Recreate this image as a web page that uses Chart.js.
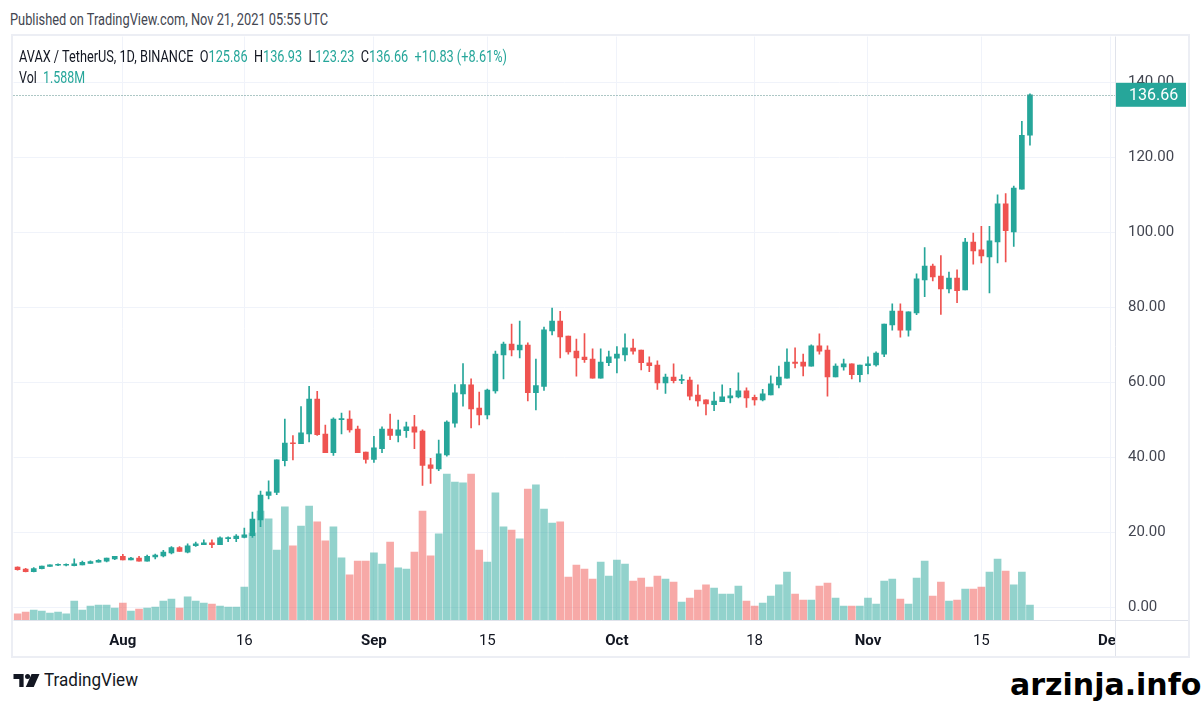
<!DOCTYPE html>
<html>
<head>
<meta charset="utf-8">
<script src="https://cdn.jsdelivr.net/npm/chart.js@4.4.0/dist/chart.umd.min.js"></script>
<style>
html, body { margin: 0; padding: 0; background: #fff; }
body { width: 1203px; height: 704px; position: relative; overflow: hidden; font-family: Roboto, "Noto Sans", sans-serif; }
#wrap { position: absolute; left: 11px; top: 34px; width: 1181px; height: 625px; }
.txt { position: absolute; white-space: nowrap; transform-origin: 0 50%; line-height: 1; }
#header { left: 10px; top: 12px; font-size: 16px; color: #434651; }
#legend { left: 19px; top: 49px; font-size: 16px; color: #131722; }
#vol { left: 19px; top: 70px; font-size: 16px; color: #131722; }
.up { color: #26a69a; }
#tvtext { left: 44px; top: 671px; font-size: 18px; color: #131722; }
#logo { position: absolute; left: 13px; top: 674px; }
#mark { position: absolute; left: 1010px; top: 670px; font-family: "DejaVu Sans", sans-serif; font-weight: bold; font-size: 30px; color: #000; white-space: nowrap; line-height: 1; }
</style>
</head>
<body>
<div id="header" class="txt" data-w="318">Published on TradingView.com, Nov 21, 2021 05:55 UTC</div>
<div id="wrap"><canvas id="chart"></canvas></div>
<div id="legend" class="txt" data-w="488"></div>
<div id="vol" class="txt" data-w="66"></div>
<svg id="logo" width="27" height="13" viewBox="0 0 36 18">
  <path d="M0 0H14V18H8V7H0Z" fill="#131722"/>
  <circle cx="19.5" cy="3.5" r="3.5" fill="#131722"/>
  <path d="M25 0H36L28 18H17Z" fill="#131722"/>
</svg>
<div id="tvtext" class="txt" data-w="94">TradingView</div>
<div id="mark">arzinja.info</div>
<script>
// daily candles AVAX/USDT, Jul 19 .. Nov 21 2021
const opens = [10.7, 10.2, 9.5, 10.3, 10.9, 11.2, 11.2, 11.1, 11.3, 11.7,
  12.0, 12.3, 12.9, 13.6, 12.6, 13.1, 12.3, 13.4, 13.7, 14.5,
  15.9, 14.7, 16.4, 16.7, 17.2, 16.7, 18.3, 18.3, 18.6, 19.1,
  23.3, 29.8, 30.6, 39.1, 43.8, 43.6, 46.2, 55.5, 46.2, 41.2,
  50.0, 50.2, 47.5, 41.4, 39.4, 42.3, 47.5, 45.8, 47.1, 48.1,
  47.0, 38.0, 36.9, 40.6, 49.1, 56.9, 59.3, 53.1, 51.3, 57.7,
  67.3, 70.2, 68.6, 69.9, 57.2, 58.9, 73.7, 76.3, 72.3, 68.3,
  66.7, 66.2, 61.1, 65.2, 66.4, 67.3, 69.1, 68.6, 65.2, 64.6,
  59.8, 61.4, 60.5, 60.6, 56.6, 55.3, 54.0, 54.8, 55.8, 56.1,
  57.7, 56.0, 55.3, 56.6, 59.3, 61.1, 65.4, 65.4, 64.3, 69.7,
  68.6, 61.4, 64.1, 64.9, 62.0, 64.4, 64.6, 67.5, 75.3, 79.0,
  73.9, 78.5, 87.3, 91.0, 88.3, 84.9, 87.8, 84.6, 97.4, 95.3,
  93.4, 97.4, 107.6, 100.1, 111.5, 125.86];
const highs = [10.8, 10.4, 10.6, 11.0, 11.3, 11.6, 11.6, 12.9, 12.3, 12.4,
  12.7, 13.1, 13.6, 14.1, 13.3, 13.6, 13.9, 14.2, 15.2, 16.2,
  16.2, 16.9, 17.4, 18.0, 18.0, 18.8, 18.8, 19.4, 21.1, 25.4,
  31.0, 33.7, 39.3, 50.2, 45.8, 53.5, 58.9, 57.6, 48.6, 50.5,
  51.8, 52.4, 48.3, 41.4, 45.6, 48.1, 51.5, 49.9, 49.4, 51.2,
  47.3, 39.7, 44.6, 49.7, 59.4, 65.0, 60.9, 57.4, 58.2, 68.3,
  70.7, 75.5, 76.3, 70.5, 66.2, 74.7, 79.8, 78.9, 72.3, 71.5,
  73.0, 68.9, 68.9, 68.3, 69.5, 72.9, 71.5, 68.6, 66.8, 65.7,
  62.2, 64.9, 62.0, 61.4, 59.3, 55.3, 57.4, 59.3, 58.4, 62.5,
  58.5, 56.6, 58.1, 61.7, 64.3, 68.9, 69.2, 67.5, 70.0, 72.9,
  69.7, 64.9, 66.2, 64.9, 64.6, 66.8, 68.1, 75.5, 80.9, 80.9,
  78.8, 88.9, 95.9, 91.5, 93.8, 89.4, 90.0, 98.4, 99.8, 101.6,
  101.6, 110.0, 110.3, 112.3, 129.6, 136.93];
const lows = [9.9, 9.4, 9.4, 10.2, 10.9, 11.1, 11.0, 11.0, 11.3, 11.7,
  12.0, 12.1, 12.7, 12.6, 12.6, 12.3, 12.3, 12.9, 13.4, 14.2,
  14.9, 14.5, 16.2, 16.7, 15.9, 16.7, 17.5, 17.5, 18.5, 18.6,
  21.5, 28.9, 30.0, 37.7, 39.3, 43.6, 44.1, 45.8, 41.2, 40.5,
  46.2, 46.7, 41.2, 38.4, 38.6, 41.2, 44.7, 44.1, 45.3, 42.3,
  32.5, 33.0, 36.4, 40.3, 48.0, 53.6, 47.8, 48.6, 50.2, 57.1,
  60.9, 67.0, 66.5, 55.0, 52.6, 57.8, 72.6, 66.5, 67.5, 61.6,
  65.3, 61.1, 61.1, 64.4, 62.5, 65.7, 67.5, 63.3, 62.8, 58.1,
  57.0, 59.8, 59.6, 55.3, 53.6, 51.3, 52.4, 54.8, 54.5, 55.8,
  53.3, 53.9, 55.0, 56.6, 58.5, 61.1, 63.8, 61.7, 64.3, 67.5,
  56.3, 61.4, 63.2, 60.9, 60.1, 62.2, 64.3, 66.8, 73.9, 72.0,
  72.3, 78.0, 82.8, 87.0, 78.1, 83.8, 81.2, 84.6, 91.5, 91.8,
  83.8, 91.8, 92.1, 96.2, 111.5, 123.23];
const closes = [10.0, 9.5, 10.3, 11.0, 11.3, 11.3, 11.3, 11.6, 12.0, 12.2,
  12.5, 13.1, 13.6, 12.6, 13.1, 12.3, 13.6, 13.9, 14.7, 15.9,
  14.9, 16.4, 16.9, 17.2, 16.7, 18.5, 18.6, 19.0, 19.3, 23.5,
  29.9, 30.8, 39.3, 43.8, 43.6, 46.5, 55.5, 46.0, 41.2, 50.2,
  50.3, 47.3, 41.2, 39.4, 42.5, 47.5, 45.8, 47.3, 48.1, 46.7,
  37.8, 37.0, 40.9, 49.4, 57.2, 59.4, 52.9, 51.3, 57.9, 67.5,
  70.2, 68.6, 69.9, 57.2, 59.1, 74.0, 76.3, 72.1, 68.1, 66.5,
  66.0, 61.1, 65.4, 66.8, 67.5, 69.2, 68.3, 65.2, 64.4, 59.8,
  61.4, 60.4, 60.7, 56.3, 55.0, 54.2, 55.0, 56.1, 56.4, 57.7,
  55.8, 55.3, 56.9, 59.6, 61.4, 65.4, 65.0, 64.3, 69.7, 68.3,
  61.4, 64.3, 64.9, 62.0, 64.6, 64.9, 67.8, 75.5, 79.0, 73.9,
  78.8, 87.6, 91.0, 88.1, 84.9, 87.8, 84.4, 97.4, 95.0, 93.7,
  97.7, 107.6, 100.4, 111.8, 125.83, 136.66];
// volume in millions AVAX
const volumes = [0.64, 0.85, 1.06, 0.95, 0.74, 0.85, 0.64, 2.01, 1.06, 1.48,
  1.59, 1.59, 1.27, 1.80, 0.95, 1.16, 1.27, 1.38, 2.01, 2.22,
  1.27, 2.44, 2.01, 1.80, 1.69, 1.48, 1.38, 1.38, 3.49, 9.21,
  11.54, 10.70, 7.41, 11.97, 7.84, 9.95, 12.07, 10.38, 8.37, 9.85,
  6.57, 4.77, 6.25, 6.25, 7.10, 5.93, 8.26, 5.51, 5.40, 7.20,
  11.54, 6.78, 9.11, 15.46, 14.61, 14.51, 15.46, 7.41, 6.14, 13.45,
  9.85, 9.53, 8.58, 13.87, 14.30, 11.75, 10.27, 10.38, 4.55, 5.82,
  5.40, 4.34, 6.14, 4.66, 6.35, 5.93, 4.13, 4.45, 3.49, 4.66,
  4.34, 4.02, 1.91, 2.33, 3.18, 3.71, 3.39, 2.75, 2.75, 3.60,
  2.01, 1.48, 1.80, 2.54, 3.71, 5.08, 2.75, 2.12, 2.12, 3.60,
  3.92, 2.33, 1.48, 1.48, 1.48, 2.33, 1.69, 4.13, 4.34, 2.22,
  1.69, 4.45, 6.25, 2.54, 4.02, 2.01, 2.12, 3.28, 3.28, 3.49,
  5.08, 6.46, 5.19, 3.71, 5.08, 1.588];

const startDate = '2021-07-19';
const dayCount = 136; // axis runs on to Dec 1
const tickDates = ['2021-08-01', '2021-08-16', '2021-09-01', '2021-09-15', '2021-10-01',
  '2021-10-18', '2021-11-01', '2021-11-15', '2021-12-01'];
const tickText = ['Aug', '16', 'Sep', '15', 'Oct', '18', 'Nov', '15', 'Dec'];
const priceTicks = [0, 20, 40, 60, 80, 100, 120, 140];

const UP = '#26a69a', DOWN = '#ef5350';
const UP_VOL = 'rgba(38,166,154,0.5)', DOWN_VOL = 'rgba(239,83,80,0.5)';

const labels = [];
const d0 = new Date(startDate + 'T00:00:00Z');
for (let i = 0; i < dayCount; i++) {
  labels.push(new Date(d0.getTime() + i * 86400000).toISOString().slice(0, 10));
}

const isUp = opens.map((o, i) => closes[i] >= o);
const candleColors = isUp.map(u => u ? UP : DOWN);
const volColors = isUp.map(u => u ? UP_VOL : DOWN_VOL);

// legend text from last candle
const n = closes.length - 1;
const chg = closes[n] - closes[n - 1];
const pct = chg / closes[n - 1] * 100;
document.getElementById('legend').innerHTML =
  'AVAX / TetherUS, 1D, BINANCE&nbsp;&nbsp;O<span class="up">' + opens[n].toFixed(2) +
  '</span>&nbsp;&nbsp;H<span class="up">' + highs[n].toFixed(2) +
  '</span>&nbsp;&nbsp;L<span class="up">' + lows[n].toFixed(2) +
  '</span>&nbsp;&nbsp;C<span class="up">' + closes[n].toFixed(2) +
  '</span>&nbsp;&nbsp;<span class="up">+' + chg.toFixed(2) + ' (+' + pct.toFixed(2) + '%)</span>';
document.getElementById('vol').innerHTML = 'Vol&nbsp;&nbsp;<span class="up">' + volumes[n].toFixed(3) + 'M</span>';

const paneDeco = {
  id: 'paneDeco',
  afterDatasetsDraw(chart) {
    const { ctx, chartArea: a } = chart;
    const y = chart.scales.y.getPixelForValue(closes[n]);
    ctx.save();
    ctx.strokeStyle = '#5b8f8a';
    ctx.lineWidth = 1;
    ctx.setLineDash([1, 2]);
    ctx.beginPath();
    ctx.moveTo(a.left, Math.round(y) + 0.5);
    ctx.lineTo(a.right, Math.round(y) + 0.5);
    ctx.stroke();
    ctx.restore();
  },
  afterDraw(chart) {
    const { ctx, chartArea: a, width, height } = chart;
    ctx.save();
    // clip the x labels that run into the price column
    ctx.fillStyle = '#fff';
    ctx.fillRect(a.right + 1, a.bottom + 1, width - a.right - 1, height - a.bottom - 1);
    ctx.strokeStyle = '#e0e3eb';
    ctx.lineWidth = 1;
    ctx.beginPath();
    ctx.moveTo(Math.round(a.right) + 0.5, a.top);
    ctx.lineTo(Math.round(a.right) + 0.5, height - 2);
    ctx.moveTo(a.left, Math.round(a.bottom) + 0.5);
    ctx.lineTo(width - 2, Math.round(a.bottom) + 0.5);
    ctx.stroke();
    // outer frame
    ctx.strokeStyle = '#eceef4';
    ctx.lineWidth = 2;
    ctx.strokeRect(1, 1, width - 4, height - 3);
    // last price tag
    const y = chart.scales.y.getPixelForValue(closes[n]);
    ctx.fillStyle = UP;
    ctx.fillRect(a.right + 1, y - 12, 70, 24);
    ctx.fillStyle = '#fff';
    ctx.font = '16px Roboto, "Noto Sans", sans-serif';
    ctx.textBaseline = 'middle';
    ctx.textAlign = 'left';
    ctx.fillText(closes[n].toFixed(2), a.right + 14, y + 1);
    ctx.restore();
  }
};

const canvas = document.getElementById('chart');
canvas.width = 1181;
canvas.height = 625;

new Chart(canvas, {
  type: 'bar',
  data: {
    labels: labels,
    datasets: [
      {
        label: 'Volume',
        data: volumes,
        yAxisID: 'vol',
        backgroundColor: volColors,
        barThickness: 7,
        grouped: false,
        order: 3
      },
      {
        label: 'Wick',
        data: lows.map((l, i) => [l, highs[i]]),
        backgroundColor: candleColors,
        barThickness: 1,
        grouped: false,
        order: 2
      },
      {
        label: 'Body',
        data: opens.map((o, i) => [o, closes[i]]),
        backgroundColor: candleColors,
        barThickness: 5,
        minBarLength: 1,
        grouped: false,
        order: 1
      }
    ]
  },
  options: {
    responsive: false,
    animation: false,
    layout: { padding: { left: 2.5, top: 2.5, right: 0, bottom: 0 } },
    plugins: { legend: { display: false }, tooltip: { enabled: false } },
    scales: {
      x: {
        type: 'category',
        offset: true,
        afterFit: s => { s.height = 39; },
        border: { display: false },
        grid: { color: '#f0f3fa', offset: false, drawTicks: false },
        ticks: {
          autoSkip: false,
          maxRotation: 0,
          padding: 12,
          color: '#131722',
          font: ctx => {
            const lab = ctx.tick ? ctx.tick.label : '';
            return { family: 'Roboto', size: 15, weight: /^[A-Z]/.test(lab) ? 'bold' : 'normal' };
          },
          callback: function (v) {
            const k = tickDates.indexOf(this.getLabelForValue(v));
            return k < 0 ? null : tickText[k];
          }
        }
      },
      y: {
        position: 'right',
        min: -3.39,
        max: 152.2,
        afterFit: s => { s.width = 77; s.paddingTop = 0; s.paddingBottom = 0; },
        afterBuildTicks: s => { s.ticks = priceTicks.map(v => ({ value: v })); },
        border: { display: false },
        grid: { color: '#f0f3fa', drawTicks: false },
        ticks: {
          padding: 13,
          color: '#434651',
          font: { family: 'Roboto', size: 15 },
          callback: v => v.toFixed(2)
        }
      },
      vol: {
        display: false,
        min: 0,
        max: 61.77
      }
    }
  },
  plugins: [paneDeco]
});

function fitText() {
  document.querySelectorAll('[data-w]').forEach(el => {
    el.style.transform = 'none';
    const w = el.getBoundingClientRect().width;
    el.style.transform = 'scaleX(' + (Number(el.dataset.w) / w) + ')';
  });
}
fitText();
if (document.fonts) document.fonts.ready.then(fitText);
</script>
</body>
</html>
